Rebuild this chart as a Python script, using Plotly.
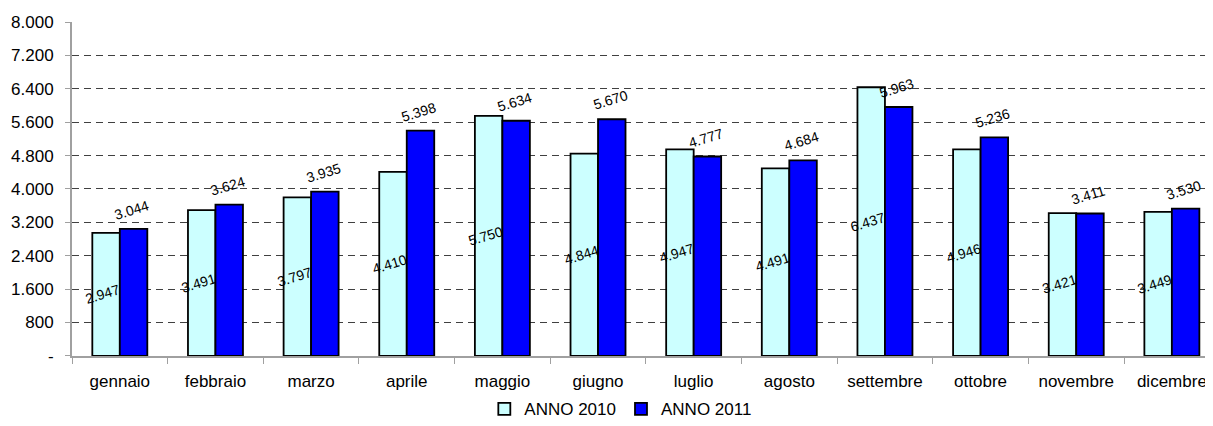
import plotly.graph_objects as go

months = ["gennaio", "febbraio", "marzo", "aprile", "maggio", "giugno",
          "luglio", "agosto", "settembre", "ottobre", "novembre", "dicembre"]
anno_2010 = [2947, 3491, 3797, 4410, 5750, 4844, 4947, 4491, 6437, 4946, 3421, 3449]
anno_2011 = [3044, 3624, 3935, 5398, 5634, 5670, 4777, 4684, 5963, 5236, 3411, 3530]
y_ticks = [0, 800, 1600, 2400, 3200, 4000, 4800, 5600, 6400, 7200, 8000]
y_tick_text = ["-", "800", "1.600", "2.400", "3.200", "4.000", "4.800",
               "5.600", "6.400", "7.200", "8.000"]


def fmt(v):
    return f"{v:,}".replace(",", ".")


FONT = "Liberation Sans, Arial, sans-serif"

fig = go.Figure()
fig.add_trace(go.Bar(
    x=months, y=anno_2010, name="ANNO 2010",
    marker=dict(color="#CCFFFF", line=dict(color="black", width=1.8)),
))
fig.add_trace(go.Bar(
    x=months, y=anno_2011, name="ANNO 2011",
    marker=dict(color="#0000FF", line=dict(color="black", width=1.8)),
))

annotations = []
for m, v in zip(months, anno_2010):
    annotations.append(dict(
        x=m, y=v / 2, xref="x", yref="y", text=fmt(v), showarrow=False,
        textangle=-17, xshift=-17, yanchor="middle",
        font=dict(family=FONT, size=14, color="black"),
    ))
for m, v in zip(months, anno_2011):
    annotations.append(dict(
        x=m, y=v, xref="x", yref="y", text=fmt(v), showarrow=False,
        textangle=-17, xshift=12, yshift=19, yanchor="middle",
        font=dict(family=FONT, size=14, color="black"),
    ))

# page body has an 8px default margin; figure is sized/placed to compensate
fig.update_layout(
    width=1205, height=418, autosize=False,
    margin=dict(l=64, r=0, t=14, b=69),
    paper_bgcolor="white", plot_bgcolor="white",
    barmode="group", bargap=0.425, bargroupgap=0,
    font=dict(family=FONT, size=17, color="black"),
    showlegend=True,
    legend=dict(
        orientation="h", x=0.481, xanchor="center",
        yref="container", y=0.04, yanchor="middle",
        font=dict(family=FONT, size=17, color="black"),
        itemwidth=30, tracegroupgap=0,
    ),
    annotations=annotations,
    xaxis=dict(
        type="category", range=[-0.5, 11.43],
        showline=True, linecolor="#A0A0A0", linewidth=2,
        ticks="outside", tickson="boundaries", ticklen=6, tickcolor="#A0A0A0",
        tickwidth=1, showgrid=False, ticklabelstandoff=9,
        tickfont=dict(family=FONT, size=17, color="black"),
    ),
    yaxis=dict(
        range=[0, 8000], tickvals=y_ticks, ticktext=y_tick_text,
        showline=True, linecolor="#A0A0A0", linewidth=2,
        ticks="outside", ticklen=5, tickcolor="#A0A0A0",
        showgrid=True, gridcolor="#404040", gridwidth=1, griddash="7px,5px",
        zeroline=False, ticklabelstandoff=8,
        tickfont=dict(family=FONT, size=17, color="black"),
    ),
)

fig.write_html("out.html")
